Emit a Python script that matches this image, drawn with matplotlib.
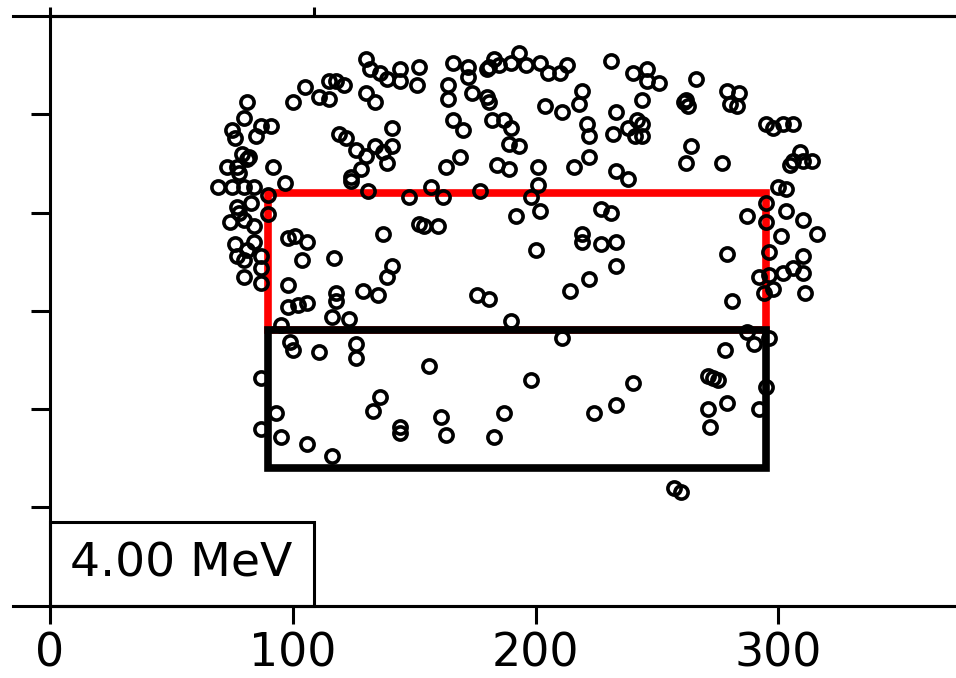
import matplotlib
matplotlib.use("Agg")
import matplotlib.pyplot as plt
from matplotlib.patches import Rectangle

# ==============================
# Data
# ==============================

x_vals = [81, 80, 75, 76, 87, 91, 85, 79, 81, 77, 73, 78, 82, 92, 97, 69, 75, 80, 84, 83,
          77, 78, 74, 80, 84, 90, 90, 76, 81, 84, 80, 87, 100, 105, 111, 115, 115, 118, 121, 130,
          132, 136, 139, 144, 144, 151, 152, 130, 134, 119, 122, 126, 130, 134, 141, 141, 137, 139, 128, 124,
          124, 131, 148, 152, 137, 98, 101, 106, 104, 117, 141, 166, 172, 172, 164, 164, 174, 181, 185, 190,
          193, 196, 202, 205, 210, 213, 183, 180, 180, 181, 182, 187, 190, 189, 193, 166, 170, 169, 163, 184,
          189, 201, 204, 211, 218, 219, 221, 222, 216, 222, 231, 240, 233, 232, 238, 241, 242, 233, 238, 157,
          162, 177, 201, 198, 202, 192, 154, 160, 227, 231, 219, 219, 227, 233, 200, 233, 246, 246, 251, 244,
          244, 244, 266, 261, 263, 262, 279, 284, 283, 280, 264, 262, 277, 295, 298, 302, 306, 309, 306, 310,
          314, 305, 300, 303, 295, 295, 287, 303, 310, 316, 301, 296, 279, 310, 306, 292, 296, 302, 310, 294,
          298, 311, 281, 287, 290, 296, 278, 271, 275, 295, 279, 271, 272, 292, 257, 260, 176, 181, 190, 214,
          222, 211, 156, 198, 240, 161, 163, 187, 183, 224, 233, 80, 87, 98, 98, 102, 106, 118, 118, 116,
          123, 129, 135, 139, 95, 99, 100, 111, 126, 126, 87, 136, 133, 144, 144, 93, 87, 95, 106, 116,
          87, 77, 273]
y_vals = [256, 248, 242, 238, 244, 244, 239, 230, 227, 223, 223, 220, 228, 223, 215, 213, 213, 213, 213, 205,
          203, 200, 195, 196, 193, 209, 199, 184, 181, 185, 176, 178, 256, 264, 259, 258, 267, 267, 265, 278,
          273, 271, 268, 273, 267, 265, 274, 261, 256, 240, 238, 232, 229, 234, 243, 234, 231, 225, 222, 218,
          216, 211, 208, 194, 189, 187, 188, 185, 176, 177, 173, 276, 274, 269, 265, 258, 261, 274, 275, 276,
          281, 275, 276, 271, 271, 275, 278, 273, 259, 256, 247, 247, 243, 235, 234, 247, 242, 228, 223, 224,
          222, 223, 254, 251, 255, 262, 245, 239, 223, 228, 277, 271, 251, 240, 243, 239, 247, 221, 217, 213,
          208, 211, 214, 208, 201, 198, 193, 193, 202, 200, 189, 185, 184, 185, 181, 173, 273, 267, 266, 257,
          245, 239, 268, 256, 254, 257, 262, 261, 254, 255, 234, 225, 225, 245, 243, 245, 245, 231, 226, 226,
          226, 224, 213, 212, 205, 195, 198, 201, 196, 189, 188, 180, 179, 178, 172, 167, 168, 169, 169, 159,
          161, 159, 155, 139, 133, 136, 130, 117, 115, 111, 103, 100, 91, 100, 60, 58, 158, 156, 145, 160,
          166, 136, 122, 115, 113, 96, 87, 98, 86, 98, 102, 167, 164, 163, 152, 153, 154, 159, 155, 147,
          146, 160, 158, 167, 143, 134, 130, 129, 133, 126, 116, 106, 99, 91, 88, 98, 90, 86, 82, 76,
          172, 178, 116]

# rectangles: (x0, x1, y0, y1)
red_box = (90, 295, 140, 210)
black_box = (90, 295, 70, 140)

x_ticks = [0, 100, 200, 300]
y_ticks = [50, 100, 150, 200, 250]
top_ticks = [0, 108.6]
etiqueta = "4.00 MeV"

# ==============================
# Figure
# ==============================

fig = plt.figure(figsize=(9.56, 6.78), dpi=100)
ax = fig.add_axes([50 / 956, 72.5 / 678, 906 / 956, 589.5 / 678])
ax.set_xlim(0, 373.2)
ax.set_ylim(0, 300)

for caja, color in [(red_box, "#ff0000"), (black_box, "black")]:
    x0, x1, y0, y1 = caja
    ax.add_patch(Rectangle((x0, y0), x1 - x0, y1 - y0, fill=False,
                           edgecolor=color, linewidth=5.5, joinstyle="miter", zorder=2))

ax.plot(x_vals, y_vals, linestyle="none", marker="o", markersize=9.5,
        markerfacecolor="none", markeredgecolor="black", markeredgewidth=2.6, zorder=3)

# spines / ticks
ax.spines["right"].set_visible(False)
for lado in ["left", "top", "bottom"]:
    ax.spines[lado].set_linewidth(2.2)

ax.set_xticks(x_ticks)
ax.set_xticklabels([str(t) for t in x_ticks])
ax.tick_params(axis="x", which="major", direction="out", length=13, width=2.2,
               labelsize=33, pad=6)
ax.set_yticks(y_ticks)
ax.set_yticklabels([])
ax.tick_params(axis="y", which="major", direction="out", length=13.7, width=2.2)

# long stubs at y = 0 and 300 left of the axis
for yy in [0, 300]:
    ax.axhline(yy, xmin=-37 / 906, xmax=1, color="black", linewidth=2.2, clip_on=False)

# top ticks
ax_top = ax.secondary_xaxis("top")
ax_top.set_xticks(top_ticks)
ax_top.set_xticklabels([])
ax_top.tick_params(direction="out", length=6.5, width=2.2)
ax_top.spines["top"].set_linewidth(2.2)

# label box
ax.add_patch(Rectangle((0, 0), 264 / 906, 83.5 / 589.5, transform=ax.transAxes, fill=False,
                       edgecolor="black", linewidth=2.2, zorder=4, clip_on=False))
ax.text(20 / 906, 28.8 / 589.5, etiqueta, transform=ax.transAxes, fontsize=34,
        ha="left", va="baseline", zorder=5)

fig.savefig("out.png", dpi=100)
